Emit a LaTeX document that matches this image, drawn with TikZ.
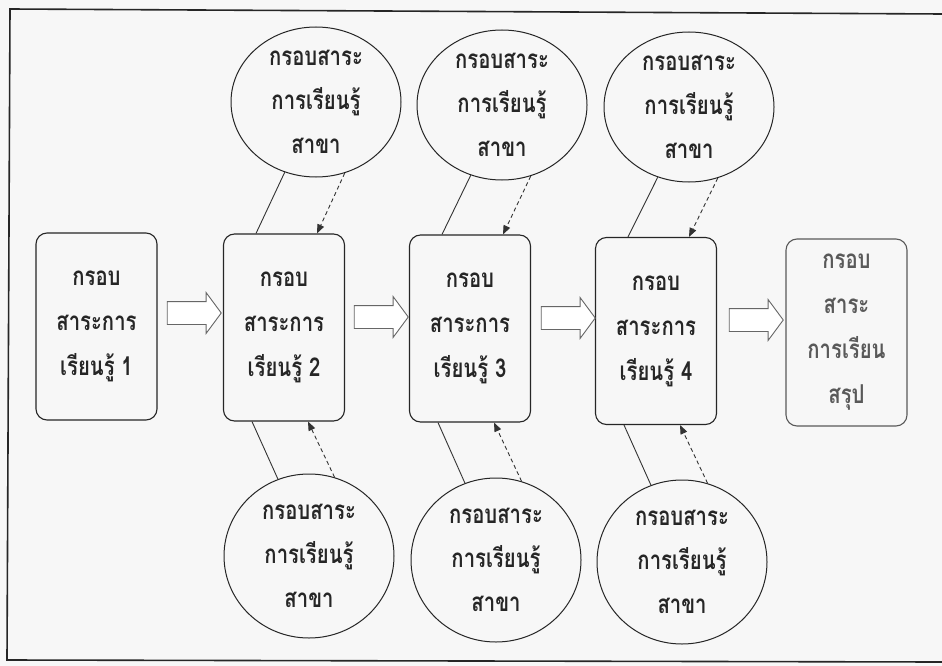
\documentclass[tikz,border=0pt]{standalone}
\usepackage{fontspec}
\newfontfamily\thaifont[Script=Thai,FakeStretch=0.78]{Loma}
\usetikzlibrary{shapes.geometric,shapes.arrows,arrows.meta,calc}
\begin{document}
\begin{tikzpicture}[x=1pt,y=-1pt,
  box/.style={draw=black!85, line width=1.1pt, rounded corners=11pt,
    minimum width=121pt, minimum height=187pt, align=center, inner sep=0pt,
    text=black!85, font=\thaifont\bfseries\fontsize{26}{45}\selectfont},
  lastbox/.style={box, draw=black!65, text=black!65, font=\thaifont\bfseries\fontsize{26}{45}\selectfont},
  ell/.style={ellipse, draw=black!85, line width=1pt, minimum width=170pt,
    minimum height=150pt, align=center, inner sep=0pt, text=black!85,
    font=\thaifont\bfseries\fontsize{26}{44}\selectfont},
  ellb/.style={ell, minimum height=164pt},
  blk/.style={single arrow, draw=black!60, fill=white, line width=0.9pt,
    minimum height=54pt, inner xsep=0pt, inner ysep=11pt,
    single arrow head extend=9pt, single arrow tip angle=107},
  link/.style={draw=black!80, line width=0.9pt},
  dlink/.style={link, dash pattern=on 4pt off 3pt, -{Triangle[length=9pt,width=7pt]}},
  frame/.style={draw=black!85, line width=1.6pt}
]
\fill[black!3] (0,0) rectangle (942,666);
\useasboundingbox (0,0) rectangle (942,666);
% outer frame
\coordinate (f1) at (942,14);
\coordinate (f2) at (10,9);
\coordinate (f3) at (7,660);
\coordinate (f4) at (942,662);
\draw[frame] (f1) -- (f2) -- (f3) -- (f4);

% main boxes
\node[box] (b1) at (96.5,326.5) {กรอบ\\สาระการ\\เรียนรู้ 1};
\node[box] (b2) at (284,327.5) {กรอบ\\สาระการ\\เรียนรู้ 2};
\node[box] (b3) at (470,328.5) {กรอบ\\สาระการ\\เรียนรู้ 3};
\node[box] (b4) at (656,331) {กรอบ\\สาระการ\\เรียนรู้ 4};
\node[lastbox] (b5) at (846.5,332.5) {กรอบ\\สาระ\\การเรียน\\สรุป};

% block arrows
\node[blk] (a1) at (190,313) {};
\node[blk] (a2) at (377,317) {};
\node[blk] (a3) at (564,318) {};
\node[blk] (a4) at (752,320) {};

% top ellipses
\node[ell] (t1) at (316,102) {กรอบสาระ\\การเรียนรู้\\สาขา};
\node[ell] (t2) at (502,105) {กรอบสาระ\\การเรียนรู้\\สาขา};
\node[ell] (t3) at (689,107) {กรอบสาระ\\การเรียนรู้\\สาขา};

% bottom ellipses
\node[ellb] (u1) at (309,556) {กรอบสาระ\\การเรียนรู้\\สาขา};
\node[ellb] (u2) at (496,560) {กรอบสาระ\\การเรียนรู้\\สาขา};
\node[ellb] (u3) at (682,562) {กรอบสาระ\\การเรียนรู้\\สาขา};

% connectors
\foreach \t/\b/\u in {t1/b2/u1, t2/b3/u2, t3/b4/u3}{
  \draw[link] (\t.246) -- ([xshift=-28pt]\b.north);
  \draw[dlink] (\t.292) -- ([xshift=33pt]\b.north);
  \draw[link] ([xshift=-32pt]\b.south) -- (\u.112);
  \draw[dlink] (\u.72) -- ([xshift=24pt]\b.south);
}
\end{tikzpicture}
\end{document}
